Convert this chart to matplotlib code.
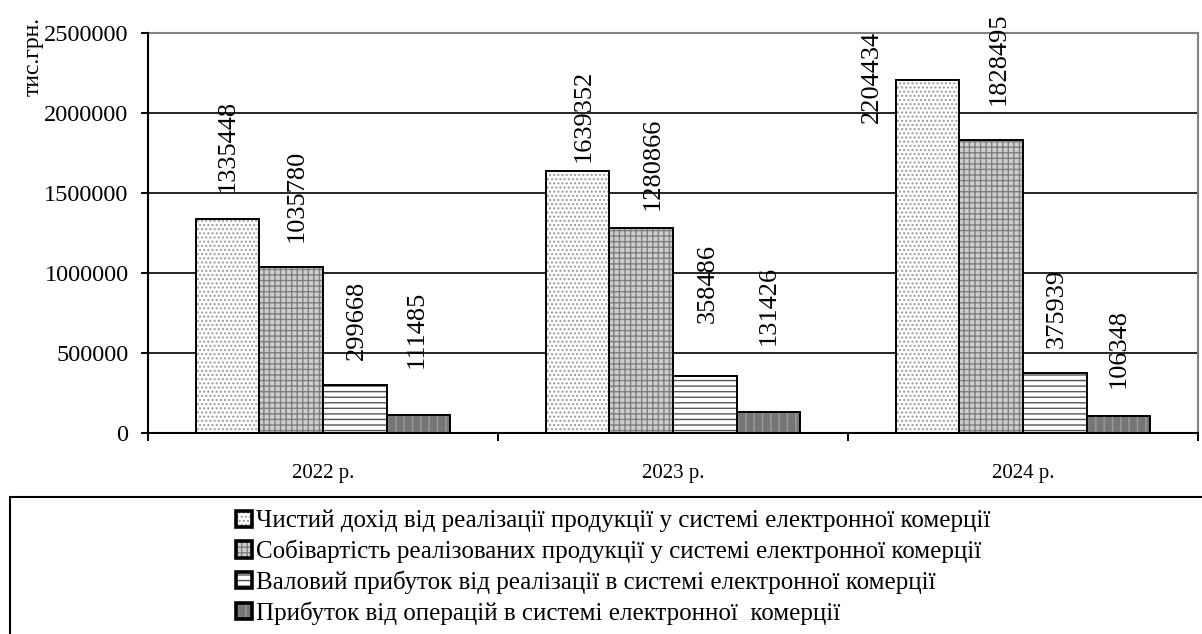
import matplotlib
matplotlib.use("Agg")
import matplotlib.pyplot as plt
from matplotlib.patches import Rectangle
from matplotlib.legend_handler import HandlerTuple
import numpy as np

# дані (тис. грн.)
roky = ["2022 р.", "2023 р.", "2024 р."]
nazvy = [
    "Чистий дохід від реалізації продукції у системі електронної комерції",
    "Собівартість реалізованих продукції у системі електронної комерції",
    "Валовий прибуток від реалізації в системі електронної комерції",
    "Прибуток від операцій в системі електронної  комерції",
]
chystyi_dohid = [1335448, 1639352, 2204434]
sobivartist = [1035780, 1280866, 1828495]
valovyi_prybutok = [299668, 358486, 375939]
prybutok_operacii = [111485, 131426, 106348]
ryady = [chystyi_dohid, sobivartist, valovyi_prybutok, prybutok_operacii]

# стиль заливки кожного ряду: (фон, штрих, колір штриха)
styli = [
    ("#ffffff", "....", "#9a9a9a"),
    ("#cfcfcf", "+++", "#7e7e7e"),
    ("#ffffff", "---", "#555555"),
    ("#767676", "||", "#9c9c9c"),
]

# зсуви підписів (пікселі) - підписи в оригіналі розставлені вручну
zsuv_x = [[0, 6, 2, -2], [6, 12, 3, 0], [-56, 8, 2, 0]]
zsuv_y = [[27, 25, 25, 47], [9, 18, 53, 67], [-43, 35, 25, 28]]

plt.rcParams["font.family"] = ["Liberation Serif", "DejaVu Serif"]

fig = plt.figure(figsize=(12.02, 6.34), dpi=100)
ax = fig.add_axes([148 / 1202, 1 - 433 / 634, (1198 - 148) / 1202, 400 / 634])

x = np.arange(len(roky))
shyryna = 0.182
handles = []
for i, znach in enumerate(ryady):
    fon, shtrykh, kolir = styli[i]
    pos = x + (i - 1.5) * shyryna
    plt.rcParams["hatch.color"] = kolir
    plt.rcParams["hatch.linewidth"] = 1.0
    ax.bar(pos, znach, shyryna, color=fon, hatch=shtrykh, linewidth=0, zorder=2)
    ax.bar(pos, znach, shyryna, fill=False, edgecolor="black", linewidth=1.4, zorder=3)
    # значки для легенди
    h1 = Rectangle((0, 0), 1, 1, facecolor=fon, hatch=shtrykh, linewidth=0)
    h2 = Rectangle((0, 0), 1, 1, fill=False, edgecolor="black", linewidth=2.6)
    handles.append((h1, h2))
    for j, v in enumerate(znach):
        ax.annotate(str(v), (pos[j], v), xytext=(zsuv_x[j][i] * 0.72, zsuv_y[j][i] * 0.72),
                    textcoords="offset points", ha="center", va="bottom",
                    rotation=90, fontsize=19, zorder=4)

ax.set_xlim(-0.5, 2.5)
ax.set_ylim(0, 2500000)
ax.set_yticks(np.arange(0, 2500001, 500000))
ax.set_yticklabels([str(t) for t in range(0, 2500001, 500000)], fontsize=17.5)
ax.set_xticks(x)
ax.set_xticklabels(roky, fontsize=15)
ax.set_xticks([-0.5, 0.5, 1.5, 2.5], minor=True)
ax.tick_params(axis="x", which="major", length=0, pad=22)
ax.tick_params(axis="x", which="minor", length=6, width=1.4)
ax.tick_params(axis="y", length=5, width=1.4, pad=9)
ax.yaxis.grid(True, color="black", linewidth=1.2)
ax.set_axisbelow(True)
for s in ["left", "bottom"]:
    ax.spines[s].set_linewidth(1.5)
    ax.spines[s].set_zorder(5)
for s in ["top", "right"]:
    ax.spines[s].set_color("#808080")
    ax.spines[s].set_linewidth(1.5)

fig.text(33 / 1202, 1 - 57 / 634, "тис.грн.", rotation=90, ha="center", va="center", fontsize=17)

# рамка легенди
fig.add_artist(Rectangle((10 / 1202, -0.05), 1.2, (634 - 497) / 634 + 0.05,
                         transform=fig.transFigure, fill=False, edgecolor="black",
                         linewidth=1.5, clip_on=False))
fig.legend(handles, nazvy, loc="upper left", bbox_to_anchor=(236 / 1202, 1 - 510 / 634),
           frameon=False, fontsize=18, borderpad=0, borderaxespad=0,
           handlelength=0.62, handleheight=0.62, handletextpad=0.2, labelspacing=0.29,
           handler_map={tuple: HandlerTuple(ndivide=1)})

fig.savefig("out.png", dpi=100)
